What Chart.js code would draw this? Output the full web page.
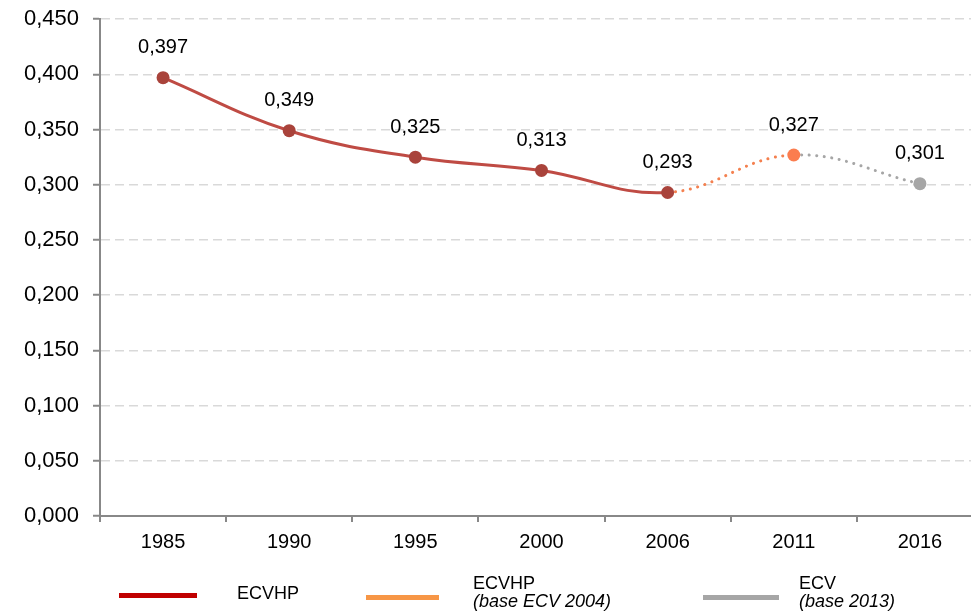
<!DOCTYPE html>
<html>
<head>
<meta charset="utf-8">
<script src="https://cdn.jsdelivr.net/npm/chart.js@4/dist/chart.umd.min.js"></script>
<style>
  html, body { margin: 0; padding: 0; background: #fff; overflow: hidden; }
  #wrap { width: 971px; height: 614px; overflow: hidden; }
  #chart { display: block; margin-top: -8px; }
</style>
</head>
<body>
<div id="wrap"><canvas id="chart" width="990" height="622"></canvas></div>
<script>
// Chart data
const years = ["1985", "1990", "1995", "2000", "2006", "2011", "2016"];
const values = [0.397, 0.349, 0.325, 0.313, 0.293, 0.327, 0.301];
const yTicks = [0, 0.05, 0.1, 0.15, 0.2, 0.25, 0.3, 0.35, 0.4, 0.45];

// Legend entries
const legendItems = [
  { color: "#c00000", lines: ["ECVHP"] },
  { color: "#f79646", lines: ["ECVHP", "(base ECV 2004)"] },
  { color: "#a6a6a6", lines: ["ECV", "(base 2013)"] }
];

const FONT = "'Liberation Sans', Arial, sans-serif";
const SHIFT = 8; // canvas is pulled up by 8px

const fmt = (v) => v.toFixed(3).replace(".", ",");

// segment colour: 1985-2006 red, 2006-2011 orange, 2011-2016 gray
const segColor = (i) => i < 4 ? "#bf4b44" : (i === 4 ? "#f4804f" : "#a6a6a6");
const pointColors = ["#a9433b", "#a9433b", "#a9433b", "#a9433b", "#a9433b", "#fb7d4f", "#a6a6a6"];

// Value labels above the points
const valueLabels = {
  id: "valueLabels",
  afterDatasetsDraw(chart) {
    const ctx = chart.ctx;
    const meta = chart.getDatasetMeta(0);
    ctx.save();
    ctx.font = "20px " + FONT;
    ctx.fillStyle = "#000";
    ctx.textAlign = "center";
    ctx.textBaseline = "middle";
    meta.data.forEach(function(pt, i) {
      ctx.fillText(fmt(values[i]), pt.x, pt.y - 30);
    });
    ctx.restore();
  }
};

// Bottom legend
const bottomLegend = {
  id: "bottomLegend",
  afterDraw(chart) {
    const ctx = chart.ctx;
    const swatchX = [119, 366, 703];
    const swatchW = [78, 73, 76];
    const textX = [237, 473, 799];
    ctx.save();
    ctx.textBaseline = "middle";
    ctx.textAlign = "left";
    legendItems.forEach(function(item, i) {
      ctx.fillStyle = item.color;
      ctx.fillRect(swatchX[i], (i === 0 ? 593 : 595) + SHIFT, swatchW[i], 5);
      ctx.fillStyle = "#000";
      ctx.font = "18px " + FONT;
      if (item.lines.length === 1) {
        ctx.fillText(item.lines[0], textX[i], 594 + SHIFT);
      } else {
        ctx.fillText(item.lines[0], textX[i], 584 + SHIFT);
        ctx.font = "italic 18px " + FONT;
        ctx.fillText(item.lines[1], textX[i], 602 + SHIFT);
      }
    });
    ctx.restore();
  }
};

const chart = new Chart(document.querySelector("#chart").getContext("2d"), {
  type: "line",
  data: {
    labels: years,
    datasets: [{
      data: values,
      borderWidth: 3,
      borderCapStyle: "round",
      tension: 0.4,
      pointRadius: 6.5,
      pointHoverRadius: 6.5,
      pointBorderWidth: 0,
      pointBackgroundColor: pointColors,
      pointBorderColor: pointColors,
      segment: {
        borderColor: (ctx) => segColor(ctx.p0DataIndex),
        borderDash: (ctx) => ctx.p0DataIndex >= 4 ? [0.1, 7.5] : []
      }
    }]
  },
  options: {
    responsive: false,
    animation: false,
    layout: { padding: { top: 10, right: 7, left: 0, bottom: 0 } },
    plugins: {
      legend: { display: false },
      tooltip: { enabled: false }
    },
    scales: {
      x: {
        offset: true,
        grid: {
          offset: true,
          drawOnChartArea: false,
          color: "#888",
          tickLength: 6,
          lineWidth: 2
        },
        border: { color: "#888", width: 2 },
        ticks: {
          color: "#000",
          font: { family: FONT, size: 20 },
          padding: 8,
          maxRotation: 0
        },
        afterFit(scale) { scale.height = 98; }
      },
      y: {
        min: 0,
        max: 0.45,
        afterBuildTicks(scale) { scale.ticks = yTicks.map((v) => ({ value: v })); },
        grid: {
          color: "#d9d9d9",
          lineWidth: 1.5,
          tickColor: "#888",
          tickLength: 7,
          tickWidth: 2,
          tickBorderDash: []
        },
        border: { color: "#888", width: 2, dash: [9, 5] },
        ticks: {
          color: "#000",
          font: { family: FONT, size: 22 },
          padding: 14,
          callback: (v) => fmt(v)
        },
        afterFit(scale) { scale.width = 100; }
      }
    }
  },
  plugins: [valueLabels, bottomLegend]
});
</script>
</body>
</html>
